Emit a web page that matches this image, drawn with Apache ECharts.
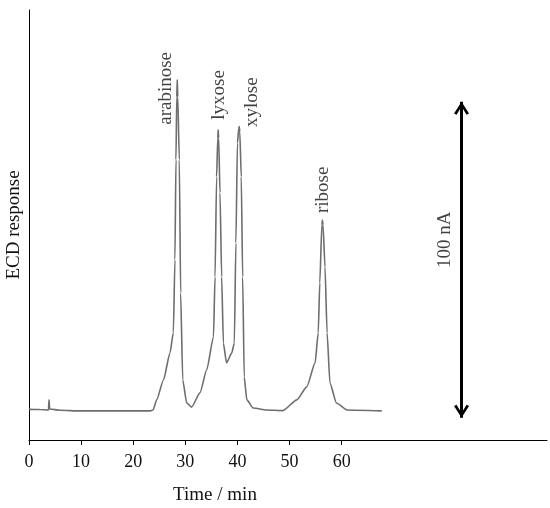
<!DOCTYPE html>
<html>
<head>
<meta charset="utf-8">
<script src="https://cdn.jsdelivr.net/npm/echarts@6/dist/echarts.min.js"></script>
<style>html,body{margin:0;padding:0;background:#fff;}#chart{width:550px;height:508px;}</style>
</head>
<body>
<div id="chart"></div>
<script>
// Chromatogram trace (time in min, ECD response in nA)
const traceTime = [0, 2.1, 3.74, 3.84, 3.97, 5.95, 9.8, 15.5, 23.2,
  23.8, 24.5, 25.8, 27.05, 27.7, 28.0, 28.2, 28.35, 28.45, 28.55, 28.84, 29.1, 29.5, 30.26, 31.2,
  32.8, 34.1, 35.4, 35.7, 36.0, 36.22, 36.3, 36.4, 36.65, 36.97, 37.3, 37.9, 38.9, 39.4,
  39.7, 40.0, 40.25, 40.35, 40.45, 40.73, 41.0, 41.3, 41.8, 43.0, 45.6, 48.7,
  51.4, 53.3, 54.9, 55.5, 55.8, 56.2, 56.3, 56.42, 56.8, 57.2, 57.75, 59.0, 61.0, 67.7];
const traceResponse = [9.7, 9.65, 9.5, 12.7, 9.8, 9.4, 9.2, 9.2, 9.2,
  9.5, 12.7, 19.0, 27.5, 33.9, 57.0, 88.6, 108.5, 113.9, 108.5, 88.6, 46.5, 19.0, 11.7, 10.4,
  14.9, 22.2, 32.6, 51.6, 83.2, 95.5, 98.1, 95.5, 78.2, 51.6, 30.7, 24.4, 27.5, 30.7,
  62.3, 94.0, 98.6, 99.1, 97.5, 83.2, 51.6, 19.9, 12.7, 10.1, 9.5, 9.3,
  12.7, 16.8, 24.4, 33.9, 49.7, 68.0, 69.6, 68.0, 54.7, 33.9, 18.0, 11.7, 9.5, 9.2];

// Peak names and label anchors [time, response]
const peakNames = ['arabinose', 'lyxose', 'xylose', 'ribose'];
const peakLabelAt = [[26.2, 99.7], [36.45, 101.3], [42.8, 99.0], [56.4, 71.8]];

// Scale bar (100 nA)
const scaleBarText = '100 nA';
const scaleBarTime = 83.0;
const scaleBarRange = [7, 107];
const scaleBarLabelAt = [79.8, 54.4];

// Axis ticks
const xTicks = [0, 10, 20, 30, 40, 50, 60];

const FONT = 'Liberation Serif';
const trace = traceTime.map((t, i) => [t, traceResponse[i]]);
const labelData = peakNames.map((n, i) => ({ value: peakLabelAt[i], name: n }));
labelData.push({ value: scaleBarLabelAt, name: scaleBarText });

// open arrow head; tip placed at the symbol centre so it ends at the line end
const chevron = 'path://M0,11 L6,0 L12,11 L10,12 L6,4.5 L2,12 Z M6,-12 L6.05,-12 L6,-11.95 Z';

const chart = echarts.init(document.getElementById('chart'));
chart.setOption({
  animation: false,
  grid: { left: 29, right: 3, top: 10, bottom: 68, containLabel: false, outerBoundsMode: 'none' },
  xAxis: {
    type: 'value', min: 0, max: 99.4,
    name: 'Time / min', nameLocation: 'middle', nameGap: 46,
    nameTextStyle: { fontFamily: FONT, fontSize: 19, color: '#111', padding: [0, 146, 0, 0] },
    axisLine: { show: true, lineStyle: { color: '#000', width: 1 } },
    axisTick: { show: true, customValues: xTicks, length: 5, lineStyle: { color: '#000' } },
    axisLabel: { customValues: xTicks, margin: 13, fontFamily: FONT, fontSize: 18, color: '#111' },
    splitLine: { show: false }
  },
  yAxis: {
    type: 'value', min: 0, max: 136,
    name: 'ECD response', nameLocation: 'middle', nameGap: 5,
    nameTextStyle: { fontFamily: FONT, fontSize: 19, color: '#111' },
    axisLine: { show: true, lineStyle: { color: '#000', width: 1 } },
    axisTick: { show: false }, axisLabel: { show: false }, splitLine: { show: false }
  },
  series: [
    {
      type: 'line', data: trace, showSymbol: false, smooth: 0.2, smoothMonotone: 'x',
      lineStyle: { color: '#6e6e6e', width: 1.6 }
    },
    {
      type: 'scatter', data: labelData, symbolSize: 0, silent: true,
      label: {
        show: true, formatter: p => p.name, position: [0, 0], rotate: 90,
        align: 'left', verticalAlign: 'middle',
        fontFamily: FONT, fontSize: 19, color: '#111'
      },
      markLine: {
        silent: true, symbol: [chevron, chevron], symbolSize: [15, 26],
        itemStyle: { color: '#000' },
        lineStyle: { color: '#000', width: 3, type: 'solid' },
        label: { show: false },
        data: [[{ coord: [scaleBarTime, scaleBarRange[0]] }, { coord: [scaleBarTime, scaleBarRange[1]] }]]
      }
    }
  ]
});
</script>
</body>
</html>
